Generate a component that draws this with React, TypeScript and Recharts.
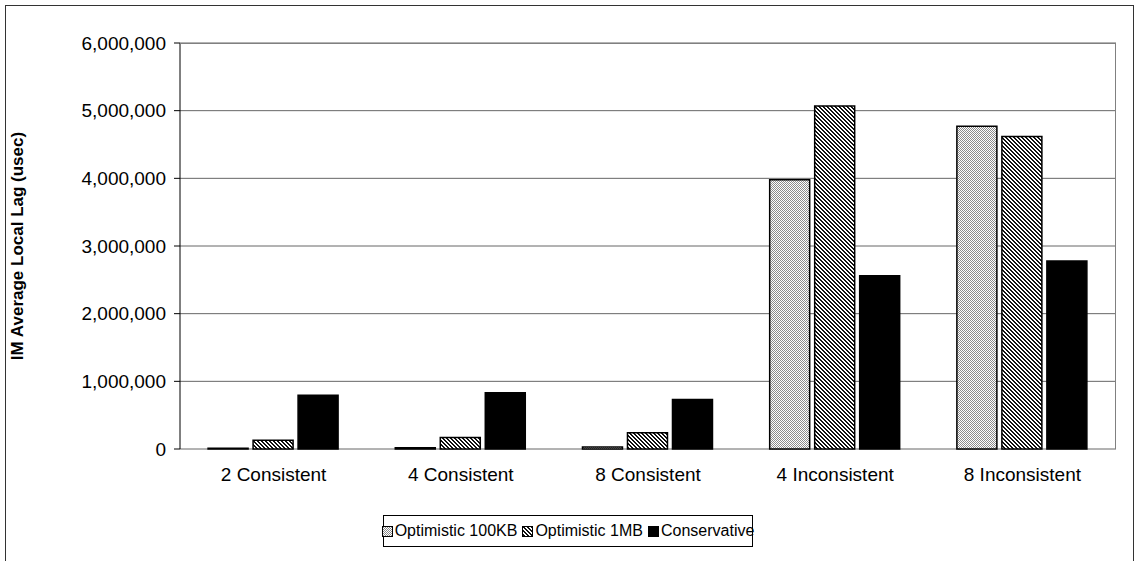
import { BarChart, Bar, XAxis, YAxis, CartesianGrid } from "recharts";

const categories = ["2 Consistent", "4 Consistent", "8 Consistent", "4 Inconsistent", "8 Inconsistent"];
const optimistic100KB = [10000, 20000, 30000, 3980000, 4770000];
const optimistic1MB = [130000, 170000, 240000, 5070000, 4620000];
const conservative = [795000, 830000, 730000, 2560000, 2780000];
const yTicks = [0, 1000000, 2000000, 3000000, 4000000, 5000000, 6000000];

const data = categories.map((name, i) => ({
  name,
  opt100: optimistic100KB[i],
  opt1mb: optimistic1MB[i],
  cons: conservative[i],
}));

const FONT = "Arial, 'Liberation Sans', sans-serif";

const fmt = (v: number) => v.toLocaleString("en-US");

const Swatch = ({ fill }: { fill: string }) => (
  <svg width={11} height={11} style={{ marginRight: 2, flex: "none" }}>
    <rect x={0.5} y={0.5} width={10} height={10} fill={fill} stroke="#000" strokeWidth={1} />
  </svg>
);

const Patterns = () => (
  <defs>
    <pattern id="dots" width={2} height={2} patternUnits="userSpaceOnUse">
      <rect width={2} height={2} fill="#fff" />
      <rect x={0} y={0} width={1} height={1} fill="#8c8c8c" />
      <rect x={1} y={1} width={1} height={1} fill="#8c8c8c" />
    </pattern>
    <pattern id="hatch" width={4} height={4} patternUnits="userSpaceOnUse">
      <rect width={4} height={4} fill="#fff" />
      <rect x={0} y={0} width={2} height={1} fill="#111" />
      <rect x={1} y={1} width={2} height={1} fill="#111" />
      <rect x={2} y={2} width={2} height={1} fill="#111" />
      <rect x={3} y={3} width={1} height={1} fill="#111" />
      <rect x={0} y={3} width={1} height={1} fill="#111" />
    </pattern>
  </defs>
);

export default function App() {
  return (
    <div style={{ position: "absolute", left: 0, top: 0, width: 1136, height: 561, background: "#fff", fontFamily: FONT, overflow: "hidden" }}>
      <div style={{ position: "absolute", left: 5, top: 5, width: 1129, height: 600, border: "1px solid #333", boxSizing: "border-box" }} />
      <div style={{ position: "absolute", left: 0, top: 0 }}>
        <BarChart
          width={1136}
          height={561}
          data={data}
          margin={{ top: 43, right: 20, left: 5, bottom: 72 }}
          barCategoryGap="15%"
          barGap={5}
        >
          <Patterns />
          <CartesianGrid vertical={false} stroke="#666" strokeWidth={1} />
          <XAxis
            xAxisId="bounds"
            type="number"
            domain={[0, 5]}
            ticks={[0, 1, 2, 3, 4, 5]}
            tick={false}
            height={0}
            axisLine={{ stroke: "#000" }}
            tickLine={{ stroke: "#000" }}
            tickSize={6}
          />
          <XAxis
            xAxisId="cat"
            dataKey="name"
            height={40}
            axisLine={false}
            tickLine={false}
            tickMargin={13}
            tick={{ fontSize: 19, fill: "#000", fontFamily: FONT }}
          />
          <YAxis
            width={175}
            domain={[0, 6000000]}
            ticks={yTicks}
            tickFormatter={fmt}
            tickSize={6}
            tickMargin={8}
            axisLine={{ stroke: "#000" }}
            tickLine={{ stroke: "#000" }}
            tick={{ fontSize: 19, fill: "#000", fontFamily: FONT }}
            label={{
              value: "IM Average Local Lag (usec)",
              angle: -90,
              position: "insideLeft",
              offset: 12,
              style: { fontSize: 17, fontWeight: "bold", fill: "#000", fontFamily: FONT, textAnchor: "middle" },
            }}
          />
          <Bar xAxisId="cat" dataKey="opt100" name="Optimistic 100KB" fill="url(#dots)" stroke="#000" strokeWidth={1.5} isAnimationActive={false} />
          <Bar xAxisId="cat" dataKey="opt1mb" name="Optimistic 1MB" fill="url(#hatch)" stroke="#000" strokeWidth={1.5} isAnimationActive={false} />
          <Bar xAxisId="cat" dataKey="cons" name="Conservative" fill="#000" stroke="#000" strokeWidth={1.5} isAnimationActive={false} />
        </BarChart>
      </div>
      <div style={{ position: "absolute", left: 180, top: 43, width: 936, height: 406, borderTop: "1px solid #808080", borderRight: "1px solid #808080", boxSizing: "border-box", pointerEvents: "none" }} />
      <div
        style={{
          position: "absolute",
          left: 383,
          top: 515,
          width: 370,
          height: 32,
          border: "1px solid #000",
          boxSizing: "border-box",
          display: "flex",
          alignItems: "center",
          justifyContent: "center",
          gap: 5,
          fontSize: 16,
          color: "#000",
          background: "#fff",
          whiteSpace: "nowrap",
        }}
      >
        <span style={{ display: "flex", alignItems: "center" }}><Swatch fill="url(#dots)" />Optimistic 100KB</span>
        <span style={{ display: "flex", alignItems: "center" }}><Swatch fill="url(#hatch)" />Optimistic 1MB</span>
        <span style={{ display: "flex", alignItems: "center" }}><Swatch fill="#000" />Conservative</span>
      </div>
    </div>
  );
}
